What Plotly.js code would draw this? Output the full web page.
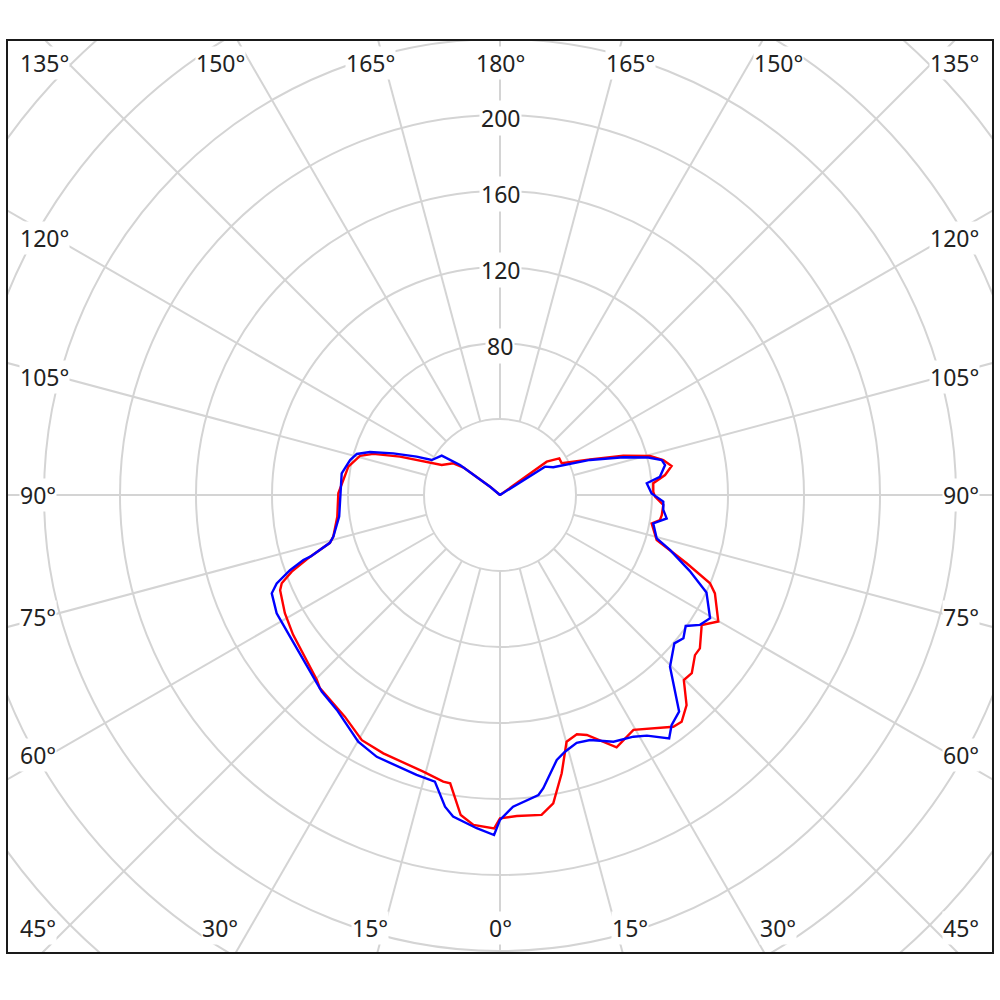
<!DOCTYPE html>
<html>
<head>
<meta charset="utf-8">
<script src="https://cdn.plot.ly/plotly-3.0.1.min.js"></script>
<style>
  html, body { margin: 0; padding: 0; background: #fff; }
  #chart { width: 1000px; height: 1000px; }
</style>
</head>
<body>
<div id="chart"></div>
<script>
// red curve, left half (gamma in degrees, intensity)
var redLeftGamma = [1, 4.6, 7, 9.8, 11.2, 15.5, 24.3, 29.4, 35, 43, 44.7, 49.5, 56, 61.2, 66.6, 68, 69.8, 72, 74.3, 76, 82.4, 90.6, 95.5, 100.6, 105.6, 108, 111, 114.4, 117.2, 124.2, 127, 130, 133, 180];
var redLeftI     = [175.5, 174.2, 169.7, 154, 153.8, 151.1, 149.2, 148.1, 142.4, 139, 137, 133.7, 131.4, 129.2, 126.1, 123.9, 116.8, 105, 93, 90.4, 86.4, 85.1, 82.8, 81.2, 76.5, 70.1, 56.4, 42.4, 34.5, 29.7, 24, 6.8, 0, 0];
// red curve, right half
var redRightGamma = [0, 3, 7.4, 9.8, 12.5, 15.1, 17.8, 19.9, 24.8, 29.6, 36.8, 38.7, 41.6, 44.8, 47.1, 50.6, 52.5, 57.2, 59.9, 65.4, 67.2, 69.9, 74, 77.7, 79.4, 81.1, 82.9, 86.5, 89.4, 91.2, 94.4, 96.9, 99.6, 102.1, 104.6, 107.7, 111.6, 117.2, 121.7, 125.5, 128, 180];
var redRightI     = [170.2, 169.2, 169.8, 164.7, 150, 134.5, 132.3, 134.3, 146.3, 142.2, 152.3, 152.9, 147.9, 137.3, 137.8, 132.8, 132.6, 126.3, 132.8, 124.4, 119.9, 104.6, 85.8, 82.6, 81.2, 85.2, 85.8, 86.1, 81.6, 80.7, 80.9, 87.5, 91.6, 87.9, 81.6, 68.1, 51, 36.5, 36.7, 30.2, 0, 0];

// blue curve, left half
var blueLeftGamma = [1, 4, 8.3, 10, 12.8, 16.6, 25.2, 29.9, 37.2, 42.2, 50, 56, 62.1, 66.7, 68.4, 69.6, 70.3, 71.7, 72, 74.3, 76, 82.4, 89.4, 97.8, 103.1, 106, 108.3, 111.3, 114.7, 117.1, 124, 126.9, 129.7, 132, 180];
var blueLeftI     = [179, 175.8, 171, 166.6, 154.7, 153.7, 152.3, 149.7, 142, 139.7, 135, 133.3, 133, 130.8, 126.4, 120.7, 117.4, 109, 105, 93, 90.4, 85.4, 84.2, 84.1, 81, 78.4, 72.1, 60.3, 48.3, 40.4, 37, 26.3, 6.8, 0, 0];
// blue curve, right half
var blueRightGamma = [0, 2.4, 7.3, 8.4, 12.1, 14.2, 17.2, 20.2, 24.7, 28.9, 31.4, 34.8, 36.7, 39.6, 44.7, 49.6, 52, 54.8, 57, 59.6, 64.7, 68.2, 72.1, 74.5, 79.5, 82, 84.8, 87.7, 90.6, 94.6, 96.5, 100.3, 102.2, 104.2, 107, 111.3, 114.7, 117.5, 122.2, 125, 180];
var blueRightI     = [171, 164.2, 159.2, 156, 142.6, 139.4, 136.5, 137.4, 142.9, 145.3, 148.4, 156, 151.1, 147.9, 127.2, 120.5, 122.5, 119.6, 125.5, 128.2, 120.2, 107.5, 94, 85.6, 82, 88.6, 86.3, 86, 79.8, 77.5, 84.7, 88.3, 87.1, 80.5, 67.9, 50.8, 38.6, 31.6, 28, 0, 0];

// grid
var gridRadii = [40, 80, 120, 160, 200, 240, 280, 320];
var gridAngles = [0, 15, 30, 45, 60, 75, 90, 105, 120, 135, 150, 165, 180];
var radialLabels = [80, 120, 160, 200];

// angle labels: text, pixel x, pixel y, anchor
var angText   = ['135°', '150°', '165°', '180°', '165°', '150°', '135°',
                 '120°', '105°', '90°', '75°', '60°', '45°',
                 '120°', '105°', '90°', '75°', '60°', '45°',
                 '30°', '15°', '0°', '15°', '30°'];
var angPx     = [19, 220, 370, 500, 630, 778, 980,
                 19, 19, 19, 19, 19, 19,
                 980, 980, 980, 980, 980, 980,
                 220, 370, 500, 630, 778];
var angPy     = [63, 63, 63, 63, 63, 63, 63,
                 238, 377, 495, 617, 755, 928,
                 238, 377, 495, 617, 755, 928,
                 928, 928, 928, 928, 928];
var angAnchor = ['left', 'center', 'center', 'center', 'center', 'center', 'right',
                 'left', 'left', 'left', 'left', 'left', 'left',
                 'right', 'right', 'right', 'right', 'right', 'right',
                 'center', 'center', 'center', 'center', 'center'];

var pxPerUnit = 1.9;
var cx = 500, cy = 495;

function rad(d){ return d * Math.PI / 180; }

// builds the closed curve: left half from top to bottom, then right half back up
function curve(leftG, leftI, rightG, rightI){
	var x = [], y = [];
	for(var i = leftG.length - 1; i >= 0; i--){
		x.push(-leftI[i] * Math.sin(rad(leftG[i])));
		y.push(-leftI[i] * Math.cos(rad(leftG[i])));
	}
	for(var j = 0; j < rightG.length; j++){
		x.push(rightI[j] * Math.sin(rad(rightG[j])));
		y.push(-rightI[j] * Math.cos(rad(rightG[j])));
	}
	return {x: x, y: y};
}

var red = curve(redLeftGamma, redLeftI, redRightGamma, redRightI);
var blue = curve(blueLeftGamma, blueLeftI, blueRightGamma, blueRightI);

var data = [
	{x: red.x, y: red.y, type: 'scatter', mode: 'lines', line: {color: '#ff0000', width: 2.4}, hoverinfo: 'skip'},
	{x: blue.x, y: blue.y, type: 'scatter', mode: 'lines', line: {color: '#0000ff', width: 2.4}, hoverinfo: 'skip'}
];

var shapes = [];
var gridColor = '#d4d4d4';
gridRadii.forEach((r) => {
	shapes.push({type: 'circle', xref: 'x', yref: 'y', x0: -r, y0: -r, x1: r, y1: r,
		line: {color: gridColor, width: 2}, layer: 'below'});
});
gridAngles.forEach((a) => {
	[-1, 1].forEach((side) => {
		shapes.push({type: 'line', xref: 'x', yref: 'y',
			x0: side * 40 * Math.sin(rad(a)), y0: -40 * Math.cos(rad(a)),
			x1: side * 420 * Math.sin(rad(a)), y1: -420 * Math.cos(rad(a)),
			line: {color: gridColor, width: 2}, layer: 'below'});
	});
});
// frame
shapes.push({type: 'rect', xref: 'paper', yref: 'paper', x0: 0, y0: 0, x1: 1, y1: 1,
	line: {color: '#1a1a1a', width: 2}, layer: 'above'});

var labelFont = {family: 'Noto Sans, DejaVu Sans, sans-serif', size: 23, color: '#222'};
var annotations = [];
radialLabels.forEach((v) => {
	annotations.push({x: 0, y: v, xref: 'x', yref: 'y', text: String(v), showarrow: false,
		font: labelFont, bgcolor: '#fff', borderpad: 1, yshift: -3});
});
angText.forEach((t, i) => {
	annotations.push({x: (angPx[i] - cx) / pxPerUnit, y: (cy - angPy[i]) / pxPerUnit,
		xref: 'x', yref: 'y', text: t, showarrow: false, xanchor: angAnchor[i],
		font: labelFont, bgcolor: '#fff', borderpad: 0});
});

var layout = {
	width: 1000,
	height: 1000,
	margin: {l: 7, r: 7, t: 40, b: 47},
	paper_bgcolor: '#fff',
	plot_bgcolor: '#fff',
	showlegend: false,
	xaxis: {range: [-493 / pxPerUnit, 493 / pxPerUnit], showgrid: false, zeroline: false,
		showticklabels: false, ticks: '', fixedrange: true},
	yaxis: {range: [-458 / pxPerUnit, 455 / pxPerUnit], showgrid: false, zeroline: false,
		showticklabels: false, ticks: '', fixedrange: true},
	shapes: shapes,
	annotations: annotations,
	hovermode: false
};

Plotly.newPlot('chart', data, layout, {staticPlot: true, displayModeBar: false});
</script>
</body>
</html>
